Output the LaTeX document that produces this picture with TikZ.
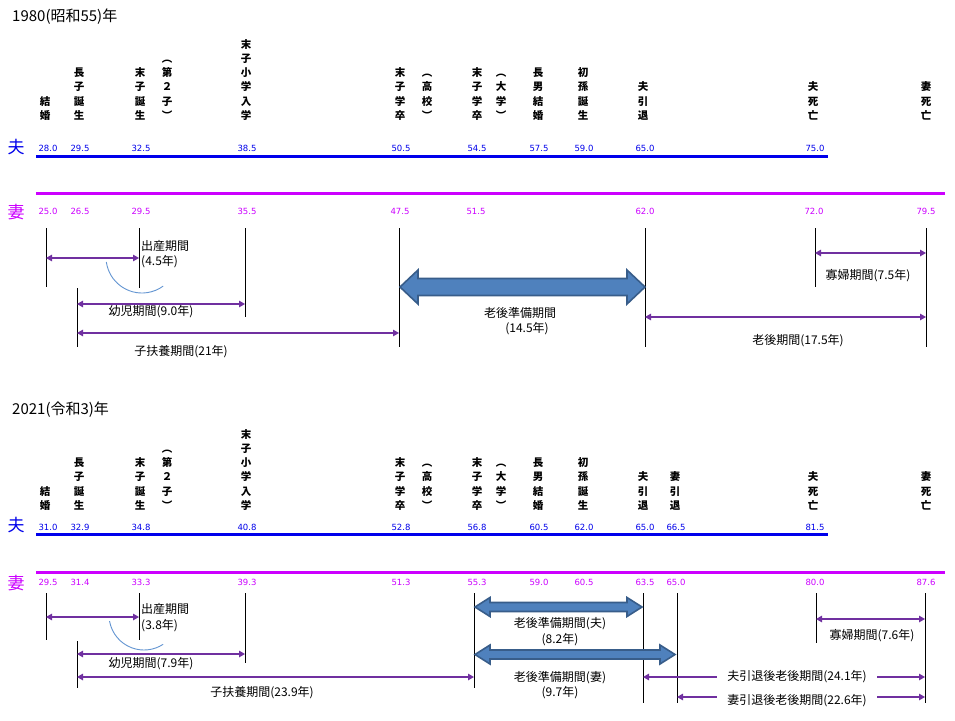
\documentclass[tikz,border=0pt]{standalone}
\usepackage{fontspec}
\newfontfamily\jp{Noto Sans CJK JP}
\newfontfamily\numf{DejaVu Sans}
\usetikzlibrary{arrows.meta}
\definecolor{hus}{RGB}{0,0,235}
\definecolor{wif}{RGB}{204,0,255}
\definecolor{per}{RGB}{112,48,160}
\definecolor{blk}{RGB}{79,129,189}
\definecolor{blkd}{RGB}{56,93,138}
\definecolor{arcc}{RGB}{100,150,210}
\newcommand\bigdbl[6]{%
  \draw[blkarrow] (#1,#3) -- (#1+#4,#3-#5) -- (#1+#4,#3-#6) -- (#2-#4,#3-#6) -- (#2-#4,#3-#5) -- (#2,#3)
    -- (#2-#4,#3+#5) -- (#2-#4,#3+#6) -- (#1+#4,#3+#6) -- (#1+#4,#3+#5) -- cycle;}
\begin{document}
\begin{tikzpicture}[x=1pt,y=-1pt,
  vlab/.style={anchor=south, align=center, inner sep=0pt, font=\jp\bfseries\fontsize{10.5}{14.3}\selectfont},
  hnum/.style={text=hus, inner sep=0pt, font=\numf\fontsize{8.5}{10}\selectfont},
  wnum/.style={text=wif, inner sep=0pt, font=\numf\fontsize{8.5}{10}\selectfont},
  who/.style={inner sep=0pt, font=\jp\fontsize{17}{20}\selectfont},
  ttl/.style={anchor=west, inner sep=0pt, font=\jp\fontsize{15}{17}\selectfont},
  lbl/.style={inner sep=0pt, font=\jp\fontsize{12}{15}\selectfont},
  gaplbl/.style={fill=white, inner xsep=10pt, inner ysep=2pt, font=\jp\fontsize{12}{15}\selectfont},
  tick/.style={draw=black, line width=0.9pt},
  span/.style={draw=per, line width=1.2pt, {Triangle[length=6pt,width=6.5pt]}-{Triangle[length=6pt,width=6.5pt]}},
  blkarrow/.style={fill=blk, draw=blkd, line width=1.6pt, line join=miter},
  arcl/.style={draw=arcc, line width=0.9pt}]
\fill[white] (0,0) rectangle (955,720);
\useasboundingbox (0,0) rectangle (955,720);

% ================= 1980 =================
\node[ttl] (t1) at (12,17) {1980(昭和55)年};
\foreach \x/\t [count=\i] in {45/{結\\婚}, 79/{長\\子\\誕\\生}, 140/{末\\子\\誕\\生}, 167/{︵\\第\\２\\子\\︶},
  246/{末\\子\\小\\学\\入\\学}, 400/{末\\子\\学\\卒}, 427/{︵\\高\\校\\︶}, 477/{末\\子\\学\\卒},
  501/{︵\\大\\学\\︶}, 538/{長\\男\\結\\婚}, 583/{初\\孫\\誕\\生}, 643/{夫\\引\\退}, 813/{夫\\死\\亡}, 926/{妻\\死\\亡}}
  \node[vlab] (va\i) at (\x,124) {\t\strut};
\node[who, text=hus] (h1) at (16,147) {夫};
\foreach \x/\v [count=\i] in {48/28.0, 80/29.5, 141/32.5, 247/38.5, 401/50.5, 477/54.5, 539/57.5, 584/59.0, 645/65.0, 815/75.0}
  \node[hnum] (ha\i) at (\x,148) {\v};
\draw[hus, line width=3pt] (36,156) -- (828,156);
\draw[wif, line width=3pt] (36,193) -- (945,193);
\node[who, text=wif] (w1) at (16,212) {妻};
\foreach \x/\v [count=\i] in {48/25.0, 80/26.5, 141/29.5, 247/35.5, 400/47.5, 476/51.5, 645/62.0, 814/72.0, 926/79.5}
  \node[wnum] (wa\i) at (\x,211) {\v};

\draw[tick] (46,228) -- (46,287);
\draw[tick] (139,228) -- (139,288);
\draw[tick] (77,288) -- (77,347);
\draw[tick] (245,228) -- (245,317);
\draw[tick] (399,228) -- (399,347);
\draw[tick] (645,228) -- (645,347);
\draw[tick] (815,228) -- (815,287);
\draw[tick] (926,228) -- (926,347);

\draw[span] (46,258) -- (139,258);
\draw[arcl] (142,257) ++(172:36) arc[start angle=172, end angle=54, radius=36];
\node[lbl, anchor=west] (a1) at (141,246) {出産期間};
\node[lbl, anchor=west] (a2) at (141,262) {(4.5年)};
\draw[span] (77,304) -- (245,304);
\node[lbl] (a3) at (151,312) {幼児期間(9.0年)};
\draw[span] (77,333) -- (399,333);
\node[lbl] (a4) at (181,352) {子扶養期間(21年)};
\bigdbl{400}{645}{287}{18}{17}{8.5}
\node[lbl] (a5) at (520,313) {老後準備期間};
\node[lbl] (a6) at (527,329) {(14.5年)};
\draw[span] (815,253) -- (926,253);
\node[lbl] (a7) at (868,276) {寡婦期間(7.5年)};
\draw[span] (645,317) -- (926,317);
\node[lbl] (a8) at (798,341) {老後期間(17.5年)};

% ================= 2021 =================
\node[ttl] (t2) at (12,410) {2021(令和3)年};
\foreach \x/\t [count=\i] in {45/{結\\婚}, 79/{長\\子\\誕\\生}, 140/{末\\子\\誕\\生}, 167/{︵\\第\\２\\子\\︶},
  246/{末\\子\\小\\学\\入\\学}, 400/{末\\子\\学\\卒}, 427/{︵\\高\\校\\︶}, 477/{末\\子\\学\\卒},
  501/{︵\\大\\学\\︶}, 538/{長\\男\\結\\婚}, 583/{初\\孫\\誕\\生}, 643/{夫\\引\\退}, 675/{妻\\引\\退}, 813/{夫\\死\\亡}, 926/{妻\\死\\亡}}
  \node[vlab] (vb\i) at (\x,514) {\t\strut};
\node[who, text=hus] (h2) at (16,525) {夫};
\foreach \x/\v [count=\i] in {48/31.0, 80/32.9, 141/34.8, 247/40.8, 401/52.8, 477/56.8, 539/60.5, 584/62.0, 645/65.0, 676/66.5, 815/81.5}
  \node[hnum] (hb\i) at (\x,527) {\v};
\draw[hus, line width=3pt] (36,534) -- (828,534);
\draw[wif, line width=3pt] (36,572) -- (945,572);
\node[who, text=wif] (w2) at (16,583) {妻};
\foreach \x/\v [count=\i] in {48/29.5, 80/31.4, 141/33.3, 247/39.3, 401/51.3, 477/55.3, 539/59.0, 584/60.5, 645/63.5, 676/65.0, 815/80.0, 926/87.6}
  \node[wnum] (wb\i) at (\x,582) {\v};

\draw[tick] (46,593) -- (46,640);
\draw[tick] (139,593) -- (139,640);
\draw[tick] (77,641) -- (77,688);
\draw[tick] (245,593) -- (245,663);
\draw[tick] (474,593) -- (474,688);
\draw[tick] (643,593) -- (643,703);
\draw[tick] (677,593) -- (677,703);
\draw[tick] (816,593) -- (816,643);
\draw[tick] (925,593) -- (925,703);

\draw[span] (46,617) -- (139,617);
\draw[arcl] (144,615) ++(170:35) arc[start angle=170, end angle=57, radius=35];
\node[lbl, anchor=west] (b1) at (141,609) {出産期間};
\node[lbl, anchor=west] (b2) at (141,626) {(3.8年)};
\draw[span] (77,654) -- (245,654);
\node[lbl] (b3) at (151,664) {幼児期間(7.9年)};
\draw[span] (77,677) -- (474,677);
\node[lbl] (b4) at (262,693) {子扶養期間(23.9年)};
\bigdbl{475}{642}{607}{15}{9.5}{4.5}
\node[lbl] (b5) at (560,624) {老後準備期間(夫)};
\node[lbl] (b6) at (560,640) {(8.2年)};
\bigdbl{475}{675}{654.5}{15}{9.5}{4.5}
\node[lbl] (b7) at (560,678) {老後準備期間(妻)};
\node[lbl] (b8) at (560,693) {(9.7年)};
\draw[span] (816,619) -- (925,619);
\node[lbl] (b9) at (872,636) {寡婦期間(7.6年)};
\draw[span] (643,677) -- (925,677);
\node[gaplbl] (b10) at (797,677) {夫引退後老後期間(24.1年)};
\draw[span] (677,697) -- (925,697);
\node[gaplbl] (b11) at (797,701) {妻引退後老後期間(22.6年)};
\end{tikzpicture}
\end{document}
